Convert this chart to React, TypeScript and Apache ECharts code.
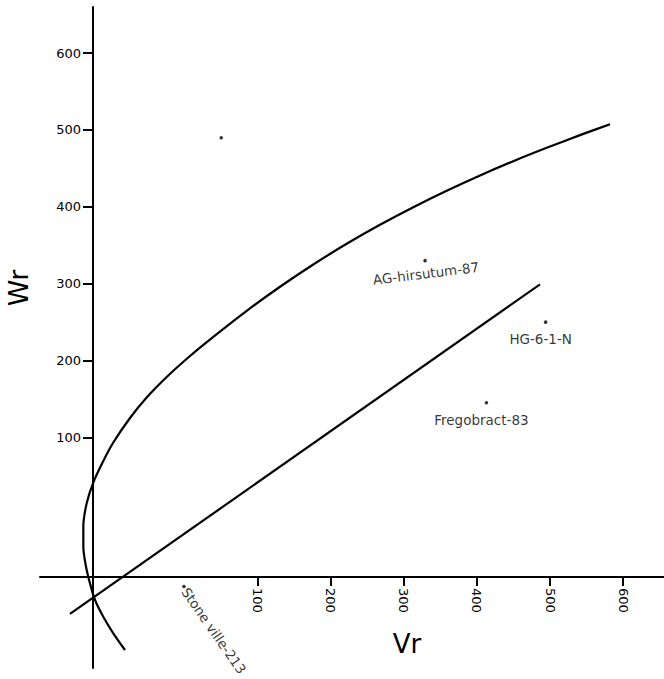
import React, { useEffect, useRef } from "react";
import * as echarts from "echarts";

// Tick values on both axes
const vrTicks = [100, 200, 300, 400, 500, 600];
const wrTicks = [100, 200, 300, 400, 500, 600];

// Limiting parabola
const parabolaVr = [-81.7, -97.7, -111.4, -122.7, -129.6, -135.0, -138.7, -138.7, -134.1, -125.1, -111.4, -97.7, -74.8, -52.0, -24.6, 7.3, 39.2, 84.9, 130.5, 176.0, 221.7, 267.3, 312.9, 358.6, 404.2, 449.7, 495.5, 541.0, 582.1];
const parabolaWr = [-176.6, -154.9, -133.3, -111.5, -89.8, -68.2, -42.2, -16.2, 14.3, 41.3, 69.3, 93.4, 125.3, 151.9, 178.6, 205.9, 230.8, 264.7, 296.0, 325.0, 351.9, 376.6, 399.5, 420.9, 440.8, 459.4, 476.8, 493.3, 507.4];

// Regression line end points
const regressionVr = [-157, 486.3];
const regressionWr = [-129.7, 299.2];

// Genotype array points
const genotypeNames = ["AG-hirsutum-87", "HG-6-1-N", "Fregobract-83", "Stone ville-213", ""];
const genotypeVr = [329, 494, 413, -1, 50];
const genotypeWr = [330, 250, 145, -94, 490];

const FONT = "DejaVu Sans";

const labelStyles: Record<string, any> = {
  "AG-hirsutum-87": { show: true, position: "bottom", distance: 4, rotate: 7 },
  "HG-6-1-N": { show: true, position: "bottom", distance: 8, offset: [-5, 0] },
  "Fregobract-83": { show: true, position: "bottom", distance: 8, offset: [-5, 0] },
  "Stone ville-213": { show: true, position: "right", distance: 1, rotate: -55, align: "left", verticalAlign: "middle", offset: [1, 3] },
  "": { show: false },
};

export default function App() {
  const ref = useRef<HTMLDivElement>(null);
  useEffect(() => {
    if (!ref.current) return;
    const chart = echarts.init(ref.current, undefined, { renderer: "svg" });
    const axisCommon = {
      type: "value" as const,
      splitLine: { show: false },
      axisLine: { show: true, onZero: false, lineStyle: { color: "#000", width: 2 } },
    };
    chart.setOption({
      animation: false,
      backgroundColor: "#fff",
      grid: { left: 40, right: 0, top: 7, bottom: 11, outerBoundsMode: "none", containLabel: false },
      xAxis: {
        ...axisCommon,
        min: -198,
        max: 656,
        offset: -91,
        axisTick: { show: true, customValues: vrTicks, length: 9, lineStyle: { color: "#000", width: 2 } },
        axisLabel: { show: true, customValues: vrTicks, rotate: -90, margin: 11, fontSize: 13, color: "#000", fontFamily: FONT },
      },
      yAxis: {
        ...axisCommon,
        min: -200,
        max: 660,
        offset: -53,
        axisTick: { show: true, customValues: wrTicks, length: 10, lineStyle: { color: "#000", width: 2 } },
        axisLabel: { show: true, customValues: wrTicks, margin: 12, fontSize: 13, color: "#000", fontFamily: FONT },
      },
      graphic: [
        { type: "text", x: 18, y: 288, rotation: Math.PI / 2, style: { text: "Wr", fontSize: 27, fontFamily: FONT, fill: "#000", textAlign: "center", textVerticalAlign: "middle" } },
        { type: "text", x: 407, y: 644, style: { text: "Vr", fontSize: 26, fontFamily: FONT, fill: "#000", textAlign: "center", textVerticalAlign: "middle" } },
      ],
      series: [
        {
          type: "line",
          data: parabolaVr.map((v, i) => [v, parabolaWr[i]]),
          smooth: 0.3,
          showSymbol: false,
          clip: false,
          lineStyle: { color: "#000", width: 2.2 },
        },
        {
          type: "line",
          data: regressionVr.map((v, i) => [v, regressionWr[i]]),
          showSymbol: false,
          clip: false,
          lineStyle: { color: "#000", width: 2.2 },
        },
        {
          type: "scatter",
          symbol: "circle",
          symbolSize: 3.5,
          itemStyle: { color: "#000" },
          clip: false,
          label: { color: "#000", fontSize: 13.5, fontFamily: FONT, formatter: "{b}" },
          data: genotypeNames.map((n, i) => ({
            name: n,
            value: [genotypeVr[i], genotypeWr[i]],
            label: labelStyles[n],
          })),
        },
      ],
    });
    return () => chart.dispose();
  }, []);
  return <div ref={ref} style={{ position: "absolute", left: 0, top: 0, width: 664, height: 679 }} />;
}
